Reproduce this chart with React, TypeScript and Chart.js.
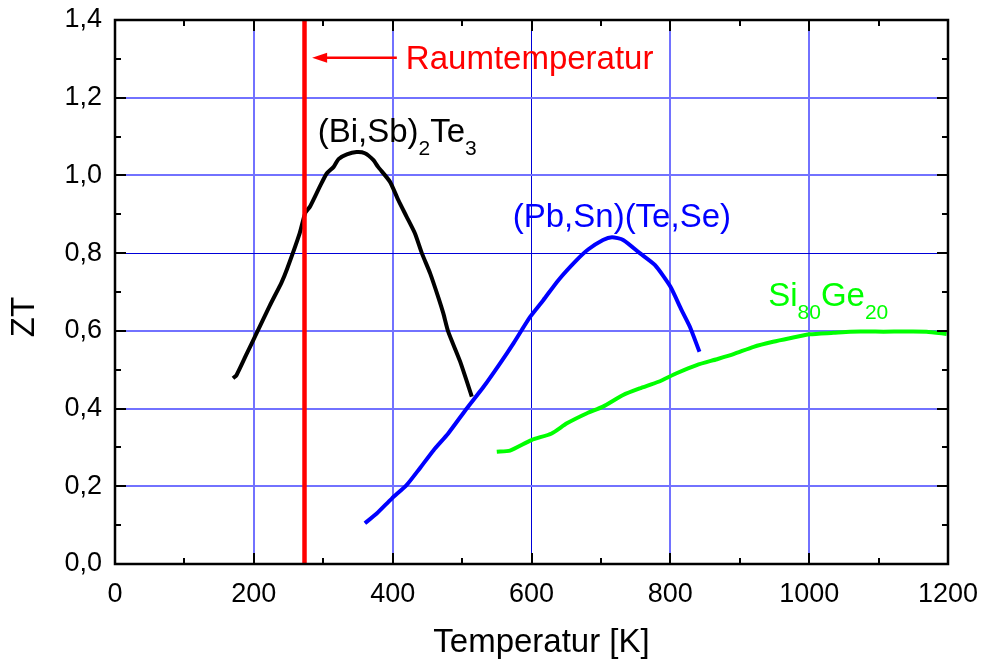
import React, { useEffect, useRef } from "react";
import { Chart, registerables } from "chart.js";

Chart.register(...registerables);

const FONT = '"Liberation Sans", Arial, Helvetica, sans-serif';

// Axis ranges
const xMin = 0;
const xMax = 1200;
const xStep = 200;
const yMin = 0;
const yMax = 1.4;
const yStep = 0.2;

// Room temperature marker (K)
const roomTemperature = 273;

// (Bi,Sb)2Te3
const biSbX = [170, 175, 190, 204, 223, 240, 248, 266, 274, 281, 295, 305, 315, 322, 334, 348, 360, 372, 379, 396, 408, 420, 432, 442, 454, 466, 473, 480, 497, 514];
const biSbY = [0.478, 0.486, 0.542, 0.594, 0.665, 0.725, 0.76, 0.851, 0.903, 0.92, 0.971, 1.005, 1.022, 1.042, 1.054, 1.06, 1.057, 1.04, 1.022, 0.984, 0.937, 0.894, 0.851, 0.8, 0.748, 0.685, 0.645, 0.598, 0.522, 0.431];

// (Pb,Sn)(Te,Se)
const pbSnX = [360, 377, 399, 420, 439, 459, 480, 507, 531, 555, 574, 598, 617, 639, 665, 682, 703, 716, 732, 756, 778, 800, 816, 828, 842];
const pbSnY = [0.105, 0.13, 0.169, 0.203, 0.246, 0.293, 0.336, 0.401, 0.456, 0.517, 0.568, 0.636, 0.679, 0.731, 0.782, 0.81, 0.834, 0.841, 0.834, 0.8, 0.769, 0.714, 0.654, 0.611, 0.546];

// Si80Ge20
const siGeX = [550, 569, 600, 629, 651, 680, 703, 732, 756, 783, 809, 838, 867, 891, 920, 948, 972, 1001, 1035, 1059, 1107, 1169, 1198];
const siGeY = [0.289, 0.292, 0.319, 0.336, 0.362, 0.388, 0.405, 0.435, 0.452, 0.469, 0.491, 0.512, 0.527, 0.54, 0.559, 0.572, 0.581, 0.591, 0.595, 0.598, 0.598, 0.598, 0.592];

// Texts
const xTitle = "Temperatur [K]";
const yTitle = "ZT";
const roomLabel = "Raumtemperatur";
const biSbLabel: [string, boolean][] = [["(Bi,Sb)", false], ["2", true], ["Te", false], ["3", true]];
const pbSnLabel: [string, boolean][] = [["(Pb,Sn)(Te,Se)", false]];
const siGeLabel: [string, boolean][] = [["Si", false], ["80", true], ["Ge", false], ["20", true]];

// Label anchors in data units [x, y(baseline)]
const roomLabelAt = [419, 1.274];
const arrowFrom = [406, 1.303];
const arrowTo = [284, 1.303];
const biSbLabelAt = [292, 1.086];
const pbSnLabelAt = [573, 0.867];
const siGeLabelAt = [941, 0.664];

// Grid lines drawn darker/thinner in the original
const darkXGrid = [600];
const darkYGrid = [0.8];

const toPoints = (xs: number[], ys: number[]) => xs.map((x, i) => ({ x, y: ys[i] }));

function drawRich(ctx: CanvasRenderingContext2D, parts: [string, boolean][], x: number, y: number, color: string) {
  let cx = x;
  ctx.fillStyle = color;
  ctx.textAlign = "left";
  ctx.textBaseline = "alphabetic";
  for (const [t, sub] of parts) {
    ctx.font = `${sub ? 21 : 33}px ${FONT}`;
    ctx.fillText(t, cx, sub ? y + 13 : y);
    cx += ctx.measureText(t).width;
  }
}

const overlayPlugin = {
  id: "overlay",
  afterDatasetsDraw(chart: any) {
    const { ctx, chartArea: a, scales } = chart;
    const xs = scales.x;
    const ys = scales.y;
    ctx.save();
    ctx.strokeStyle = "#000";
    ctx.lineWidth = 2;
    ctx.lineCap = "butt";
    for (let v = xMin; v <= xMax; v += 100) {
      const px = Math.round(xs.getPixelForValue(v));
      const len = v % 200 === 0 ? 11 : 6;
      ctx.beginPath();
      ctx.moveTo(px, a.bottom);
      ctx.lineTo(px, a.bottom - len);
      ctx.moveTo(px, a.top);
      ctx.lineTo(px, a.top + len);
      ctx.stroke();
    }
    for (let i = 0; i <= 14; i++) {
      const py = Math.round(ys.getPixelForValue(i / 10));
      const len = i % 2 === 0 ? 11 : 6;
      ctx.beginPath();
      ctx.moveTo(a.left, py);
      ctx.lineTo(a.left + len, py);
      ctx.moveTo(a.right, py);
      ctx.lineTo(a.right - len, py);
      ctx.stroke();
    }
    ctx.lineWidth = 2.5;
    ctx.strokeRect(a.left, a.top, a.right - a.left, a.bottom - a.top);

    // Room temperature label + arrow
    ctx.font = `33px ${FONT}`;
    ctx.fillStyle = "#ff0000";
    ctx.textAlign = "left";
    ctx.textBaseline = "alphabetic";
    ctx.fillText(roomLabel, xs.getPixelForValue(roomLabelAt[0]), ys.getPixelForValue(roomLabelAt[1]));
    const ax1 = xs.getPixelForValue(arrowFrom[0]);
    const ax2 = xs.getPixelForValue(arrowTo[0]);
    const ay = ys.getPixelForValue(arrowFrom[1]);
    ctx.strokeStyle = "#ff0000";
    ctx.lineWidth = 2.5;
    ctx.beginPath();
    ctx.moveTo(ax1, ay);
    ctx.lineTo(ax2 + 10, ay);
    ctx.stroke();
    ctx.beginPath();
    ctx.moveTo(ax2, ay);
    ctx.lineTo(ax2 + 15, ay - 5);
    ctx.lineTo(ax2 + 15, ay + 5);
    ctx.closePath();
    ctx.fill();

    drawRich(ctx, biSbLabel, xs.getPixelForValue(biSbLabelAt[0]), ys.getPixelForValue(biSbLabelAt[1]), "#000000");
    drawRich(ctx, pbSnLabel, xs.getPixelForValue(pbSnLabelAt[0]), ys.getPixelForValue(pbSnLabelAt[1]), "#0000ff");
    drawRich(ctx, siGeLabel, xs.getPixelForValue(siGeLabelAt[0]), ys.getPixelForValue(siGeLabelAt[1]), "#00ff00");

    // Axis titles
    ctx.fillStyle = "#000";
    ctx.font = `33px ${FONT}`;
    ctx.textAlign = "center";
    ctx.textBaseline = "alphabetic";
    ctx.fillText(xTitle, (a.left + a.right) / 2 + 10, 652);
    ctx.save();
    ctx.translate(25, (a.top + a.bottom) / 2 + 25);
    ctx.rotate(-Math.PI / 2);
    ctx.textBaseline = "middle";
    ctx.fillText(yTitle, 0, 0);
    ctx.restore();
    ctx.restore();
  },
};

export default function App() {
  const ref = useRef<HTMLCanvasElement | null>(null);
  useEffect(() => {
    if (!ref.current) return;
    const isDark = (list: number[], v: number) => list.some((d) => Math.abs(d - v) < 1e-6);
    const gridColor = (list: number[]) => (c: any) =>
      c.tick && isDark(list, c.tick.value) ? "#0000d8" : "#7272ff";
    const gridWidth = (list: number[]) => (c: any) => (c.tick && isDark(list, c.tick.value) ? 1 : 2);
    const chart = new Chart(ref.current, {
      type: "line",
      data: {
        datasets: [
          {
            label: "Raumtemperatur",
            data: [{ x: roomTemperature, y: yMin }, { x: roomTemperature, y: yMax }],
            borderColor: "#ff0000",
            borderWidth: 4.5,
            pointRadius: 0,
            order: 0,
          },
          {
            label: "(Bi,Sb)2Te3",
            data: toPoints(biSbX, biSbY),
            borderColor: "#000000",
            borderWidth: 4,
            pointRadius: 0,
            tension: 0.2,
            order: 1,
          },
          {
            label: "(Pb,Sn)(Te,Se)",
            data: toPoints(pbSnX, pbSnY),
            borderColor: "#0000ff",
            borderWidth: 4,
            pointRadius: 0,
            tension: 0.2,
            order: 1,
          },
          {
            label: "Si80Ge20",
            data: toPoints(siGeX, siGeY),
            borderColor: "#00ff00",
            borderWidth: 4,
            pointRadius: 0,
            tension: 0.2,
            order: 1,
          },
        ],
      },
      options: {
        responsive: false,
        animation: false,
        layout: { padding: { left: 0, top: 20, right: 35, bottom: 0 } },
        plugins: { legend: { display: false }, tooltip: { enabled: false } },
        scales: {
          x: {
            type: "linear",
            min: xMin,
            max: xMax,
            afterFit: (s: any) => {
              s.height = 97;
              s.paddingLeft = 0;
              s.paddingRight = 0;
            },
            border: { display: false },
            grid: { color: gridColor(darkXGrid), lineWidth: gridWidth(darkXGrid), drawTicks: false },
            ticks: {
              stepSize: xStep,
              padding: 14,
              color: "#000",
              font: { family: FONT, size: 27 },
              maxRotation: 0,
              callback: (v: any) => String(v),
            },
          },
          y: {
            type: "linear",
            min: yMin,
            max: yMax,
            afterFit: (s: any) => {
              s.width = 115;
              s.paddingTop = 0;
              s.paddingBottom = 0;
            },
            border: { display: false },
            grid: { color: gridColor(darkYGrid), lineWidth: gridWidth(darkYGrid), drawTicks: false },
            ticks: {
              stepSize: yStep,
              padding: 13,
              color: "#000",
              font: { family: FONT, size: 27 },
              callback: (v: any) => Number(v).toFixed(1).replace(".", ","),
            },
          },
        },
      },
      plugins: [overlayPlugin],
    } as any);
    return () => chart.destroy();
  }, []);
  return (
    <div style={{ position: "fixed", left: 0, top: 0, width: 983, height: 661, background: "#fff" }}>
      <canvas ref={ref} width={983} height={661} />
    </div>
  );
}
